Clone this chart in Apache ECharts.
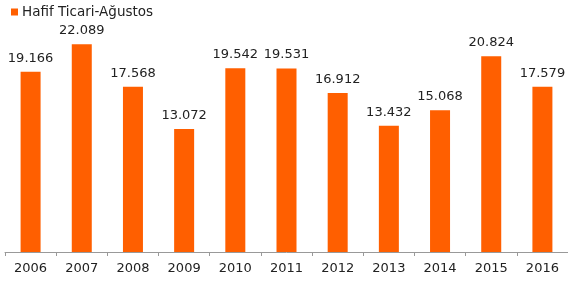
<!DOCTYPE html>
<html>
<head>
<meta charset="utf-8">
<script src="https://cdn.jsdelivr.net/npm/echarts@6/dist/echarts.min.js"></script>
<style>
  html, body { margin: 0; padding: 0; background: #fff; }
  #chart { width: 568px; height: 286px; }
</style>
</head>
<body>
<div id="chart"></div>
<script>
var years = ['2006', '2007', '2008', '2009', '2010', '2011', '2012', '2013', '2014', '2015', '2016'];
var sales = [19166, 22089, 17568, 13072, 19542, 19531, 16912, 13432, 15068, 20824, 17579];
var seriesName = 'Hafif Ticari-Ağustos';

var font = 'DejaVu Sans';

function fmt(v) {
    return String(v).replace(/\B(?=(\d{3})+(?!\d))/g, '.');
}

var chart = echarts.init(document.getElementById('chart'));

var option = {
    animation: false,
    textStyle: { fontFamily: font },
    legend: {
        left: 6,
        top: 0,
        itemWidth: 7,
        itemHeight: 7,
        itemGap: 10,
        icon: 'rect',
        textStyle: { fontFamily: font, fontSize: 13.5, color: '#222', padding: [0, 0, 0, -1] },
        data: [seriesName]
    },
    grid: { left: 5, right: -6, top: 17, bottom: 34 },
    xAxis: {
        type: 'category',
        data: years,
        axisLine: { lineStyle: { color: '#999' } },
        axisTick: { show: true, length: 4, lineStyle: { color: '#999' } },
        axisLabel: { fontFamily: font, fontSize: 13, color: '#222', margin: 10 }
    },
    yAxis: {
        type: 'value',
        min: 0,
        max: 25000,
        show: false,
        splitLine: { show: false }
    },
    series: [{
        name: seriesName,
        type: 'bar',
        data: sales,
        barWidth: 20,
        itemStyle: { color: '#ff5f00' },
        label: {
            show: true,
            position: 'top',
            distance: 7,
            fontFamily: font,
            fontSize: 13,
            color: '#222',
            formatter: function (p) { return fmt(p.value); }
        }
    }]
};

chart.setOption(option);
window.onresize = function () { chart.resize(); };
</script>
</body>
</html>
